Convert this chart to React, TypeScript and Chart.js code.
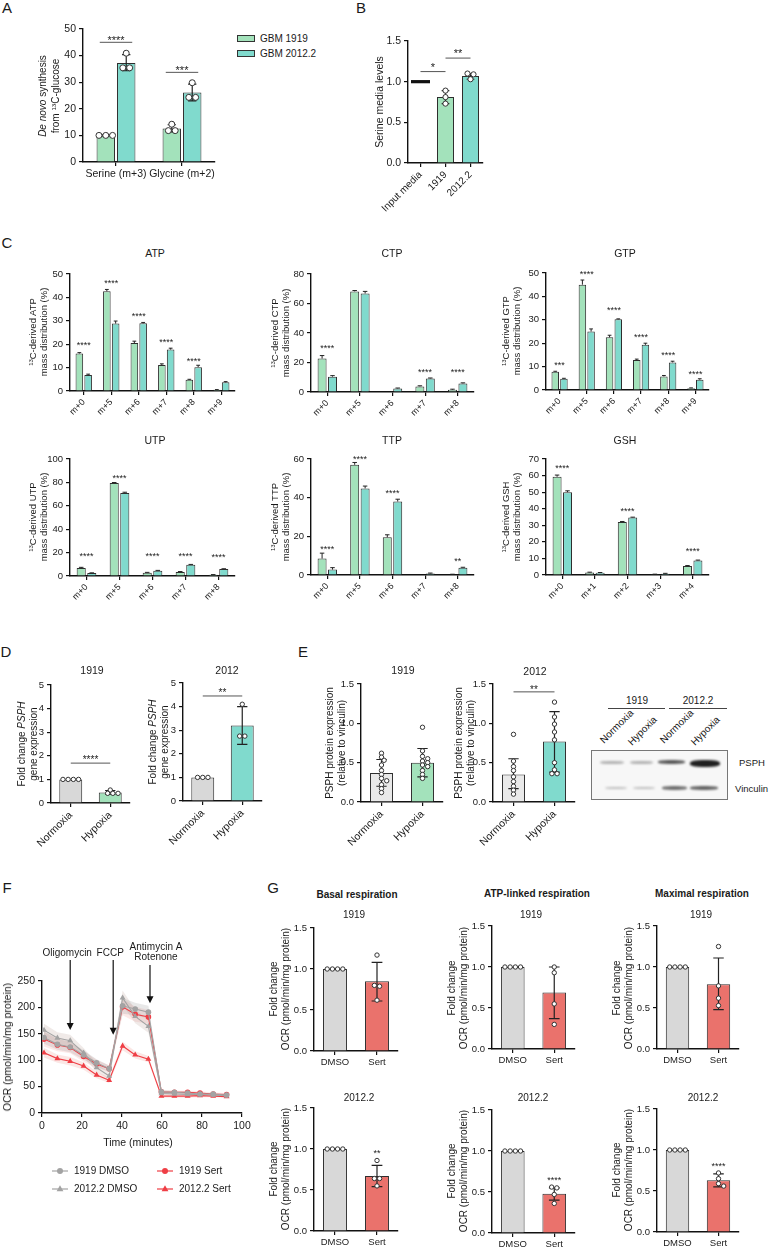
import React, { useEffect, useRef } from 'react';
import { Chart, registerables } from 'chart.js';

Chart.register(...registerables);

const FONT = '"Liberation Sans", Arial, Helvetica, sans-serif';
Chart.defaults.font.family = FONT;
Chart.defaults.color = '#222';

const GREEN = '#a3e2bb';
const TEAL = '#80dacd';
const GRAY = '#d8d8d8';
const LGRAY = '#e9e9e9';
const RED = '#ea726c';
const EDGE = '#2e2e2e';
const AX = '#111';
const F_GRAY = '#a3a3a3';
const F_RED = '#ef3e45';

// ---------------- DATA ----------------
// A
const A_CATS = ['Serine (m+3)', 'Glycine (m+2)'];
const A_1919 = [10.0, 12.6];
const A_1919_LO = [9.8, 11.3];
const A_1919_HI = [10.2, 14.0];
const A_1919_PTS = [[10.0, 10.0, 10.0], [14.2, 11.8, 11.8]];
const A_2012 = [37.2, 26.1];
const A_2012_LO = [34.3, 23.0];
const A_2012_HI = [40.4, 29.3];
const A_2012_PTS = [[40.9, 35.4, 35.4], [29.8, 24.3, 24.3]];

// B
const B_CATS = ['Input media', '1919', '2012.2'];
const B_VALS = [1.0, 0.81, 1.07];
const B_LO = [null, 0.73, 1.03];
const B_HI = [null, 0.89, 1.1];
const B_PTS = [[], [0.89, 0.81, 0.73], [1.1, 1.09, 1.03]];

// C
const C_ATP_CATS = ['m+0', 'm+5', 'm+6', 'm+7', 'm+8', 'm+9'];
const C_ATP_1919 = [16.0, 42.6, 20.5, 11.1, 4.8, 0.5];
const C_ATP_1919_SEM = [0.4, 0.8, 0.8, 0.5, 0.2, 0.1];
const C_ATP_2012 = [6.8, 28.8, 28.9, 17.7, 10.2, 3.7];
const C_ATP_2012_SEM = [0.4, 1.1, 0.4, 0.6, 0.8, 0.3];
const C_ATP_SIG = ['****', '****', '****', '****', '****', ''];
const C_ATP_SIG_Y = [20.5, 47, 33, 21.8, 13.7, 0];

const C_CTP_CATS = ['m+0', 'm+5', 'm+6', 'm+7', 'm+8'];
const C_CTP_1919 = [22.7, 68.2, 0, 3.8, 1.5];
const C_CTP_1919_SEM = [2.0, 0.6, 0, 0.4, 0.4];
const C_CTP_2012 = [10.4, 66.8, 2.4, 9.2, 5.8];
const C_CTP_2012_SEM = [0.7, 1.4, 0.3, 0.3, 0.4];
const C_CTP_SIG = ['****', '', '', '****', '****'];
const C_CTP_SIG_Y = [31.4, 0, 0, 14.9, 14.9];

const C_GTP_CATS = ['m+0', 'm+5', 'm+6', 'm+7', 'm+8', 'm+9'];
const C_GTP_1919 = [7.8, 45.0, 22.5, 12.8, 5.8, 0.8];
const C_GTP_1919_SEM = [0.2, 2.0, 0.9, 0.4, 0.4, 0.1];
const C_GTP_2012 = [4.8, 25.0, 30.2, 19.3, 11.8, 4.4];
const C_GTP_2012_SEM = [0.2, 1.1, 0.2, 0.7, 0.5, 0.4];
const C_GTP_SIG = ['***', '****', '****', '****', '****', '****'];
const C_GTP_SIG_Y = [11.8, 50.3, 35.3, 23.4, 15.7, 7.8];

const C_UTP_CATS = ['m+0', 'm+5', 'm+6', 'm+7', 'm+8'];
const C_UTP_1919 = [6.8, 79.5, 2.8, 3.5, 1.0];
const C_UTP_1919_SEM = [0.6, 0.4, 0.3, 0.3, 0.2];
const C_UTP_2012 = [2.5, 71.0, 4.5, 9.6, 6.0];
const C_UTP_2012_SEM = [0.2, 0.6, 0.3, 0.3, 0.2];
const C_UTP_SIG = ['****', '****', '****', '****', '****'];
const C_UTP_SIG_Y = [18.5, 85.5, 18.5, 18.5, 18];

const C_TTP_CATS = ['m+0', 'm+5', 'm+6', 'm+7', 'm+8'];
const C_TTP_1919 = [8.5, 57.0, 19.5, 0, 0.3];
const C_TTP_1919_SEM = [2.8, 1.2, 1.3, 0, 0.1];
const C_TTP_2012 = [2.8, 44.8, 38.0, 0.8, 3.8];
const C_TTP_2012_SEM = [1.0, 1.2, 1.2, 0.2, 0.2];
const C_TTP_SIG = ['****', '****', '****', '', '**'];
const C_TTP_SIG_Y = [14.6, 61.2, 43.4, 0, 8.1];

const C_GSH_CATS = ['m+0', 'm+1', 'm+2', 'm+3', 'm+4'];
const C_GSH_1919 = [59.3, 1.5, 32.0, 0.4, 5.5];
const C_GSH_1919_SEM = [1.0, 0.2, 0.3, 0.1, 0.2];
const C_GSH_2012 = [50.0, 1.3, 34.7, 0.8, 8.7];
const C_GSH_2012_SEM = [0.8, 0.2, 0.2, 0.2, 0.3];
const C_GSH_SIG = ['****', '', '****', '', '****'];
const C_GSH_SIG_Y = [65.6, 0, 40.2, 0, 15.7];

// D
const D_CATS = ['Normoxia', 'Hypoxia'];
const D_1919 = [1.0, 0.45];
const D_1919_LO = [null, 0.37];
const D_1919_HI = [null, 0.53];
const D_1919_PTS = [[1, 1, 1, 1], [0.55, 0.41, 0.41, 0.41]];
const D_2012 = [1.0, 3.2];
const D_2012_LO = [null, 2.4];
const D_2012_HI = [null, 4.0];
const D_2012_PTS = [[1, 1, 1], [4.1, 2.75, 2.75]];

// E
const E_CATS = ['Normoxia', 'Hypoxia'];
const E_1919 = [0.37, 0.5];
const E_1919_LO = [0.2, 0.32];
const E_1919_HI = [0.54, 0.68];
const E_1919_PTS = [
  [0.62, 0.57, 0.53, 0.47, 0.4, 0.35, 0.3, 0.27, 0.22, 0.17, 0.12],
  [0.95, 0.65, 0.58, 0.55, 0.52, 0.5, 0.47, 0.45, 0.4, 0.35, 0.3],
];
const E_2012 = [0.35, 0.77];
const E_2012_LO = [0.17, 0.38];
const E_2012_HI = [0.55, 1.15];
const E_2012_PTS = [
  [0.86, 0.52, 0.45, 0.4, 0.32, 0.26, 0.2, 0.15, 0.1],
  [1.27, 1.08, 0.99, 0.89, 0.79, 0.5, 0.41, 0.36, 0.36],
];

// F (Seahorse)
const F_T = [1, 7.7, 14.1, 20.8, 27.3, 33.6, 40.3, 46.6, 53.2, 59.7, 66.2, 72.8, 79, 85.6, 92.3];
const F_1919_DMSO = [143, 130, 125, 110, 95, 84, 203, 197, 191, 40, 39, 38, 36, 36, 34];
const F_1919_DMSO_SD = [12, 10, 10, 9, 7, 6, 15, 12, 12, 3, 3, 3, 2, 2, 2];
const F_2012_DMSO = [157, 142, 137, 114, 86, 70, 218, 183, 164, 37, 36, 35, 35, 34, 33];
const F_2012_DMSO_SD = [12, 11, 11, 9, 8, 6, 14, 13, 12, 3, 3, 3, 3, 2, 2];
const F_1919_SERT = [140, 129, 124, 107, 93, 84, 201, 187, 182, 40, 39, 39, 38, 36, 35];
const F_1919_SERT_SD = [14, 12, 11, 10, 8, 6, 16, 14, 13, 4, 3, 3, 3, 3, 3];
const F_2012_SERT = [114, 103, 98, 89, 72, 62, 127, 110, 102, 32, 32, 32, 33, 32, 31];
const F_2012_SERT_SD = [9, 8, 8, 7, 6, 5, 8, 7, 6, 3, 3, 3, 3, 2, 2];
const F_ANN_T = [14.1, 35.6, 54.0];
const F_ANN_TIP = [157, 148, 208];
const F_ANN_LABEL = [['Oligomycin'], ['FCCP'], ['Antimycin A', 'Rotenone']];

// G
const G_CATS = ['DMSO', 'Sert'];
const G_BASAL_1919 = [1.0, 0.85];
const G_BASAL_1919_LO = [null, 0.61];
const G_BASAL_1919_HI = [null, 1.08];
const G_BASAL_1919_PTS = [[1, 1, 1, 1], [1.17, 0.8, 0.79, 0.62]];
const G_ATP_1919 = [1.0, 0.69];
const G_ATP_1919_LO = [null, 0.37];
const G_ATP_1919_HI = [null, 1.0];
const G_ATP_1919_PTS = [[1, 1, 1, 1], [1.0, 0.93, 0.55, 0.3]];
const G_MAX_1919 = [1.0, 0.79];
const G_MAX_1919_LO = [null, 0.48];
const G_MAX_1919_HI = [null, 1.11];
const G_MAX_1919_PTS = [[1, 1, 1, 1], [1.25, 0.77, 0.62, 0.53]];
const G_BASAL_2012 = [1.0, 0.67];
const G_BASAL_2012_LO = [null, 0.54];
const G_BASAL_2012_HI = [null, 0.8];
const G_BASAL_2012_PTS = [[1, 1, 1, 1], [0.86, 0.64, 0.64, 0.55]];
const G_ATP_2012 = [1.0, 0.48];
const G_ATP_2012_LO = [null, 0.4];
const G_ATP_2012_HI = [null, 0.55];
const G_ATP_2012_PTS = [[1, 1, 1, 1], [0.56, 0.55, 0.47, 0.36]];
const G_MAX_2012 = [1.0, 0.63];
const G_MAX_2012_LO = [null, 0.55];
const G_MAX_2012_HI = [null, 0.71];
const G_MAX_2012_PTS = [[1, 1, 1, 1], [0.72, 0.65, 0.59, 0.56]];

// ---------------- HELPERS ----------------
function swarm(py: number[], r: number) {
  const d = 2 * r + 0.8;
  const order = py.map((_, i) => i).sort((a, b) => py[a] - py[b]);
  const rows: number[][] = [];
  for (const i of order) {
    const last = rows[rows.length - 1];
    if (last && Math.abs(py[i] - py[last[0]]) < 1.2) last.push(i);
    else rows.push([i]);
  }
  const placed: { x: number; y: number }[] = [];
  const out = py.map(() => 0);
  for (const row of rows) {
    const n = row.length;
    for (let s = 0; s < 60; s++) {
      const c = s === 0 ? 0 : (s % 2 ? 1 : -1) * Math.ceil(s / 2) * d * 0.5;
      const xs = row.map((_, q) => c + (q - (n - 1) / 2) * d);
      const ok = row.every((i, q) => placed.every((p) => Math.hypot(p.x - xs[q], p.y - py[i]) >= d * 0.75));
      if (ok || s === 59) {
        row.forEach((i, q) => {
          out[i] = xs[q];
          placed.push({ x: xs[q], y: py[i] });
        });
        break;
      }
    }
  }
  return out;
}

function makeExtras(o: any) {
  return {
    id: 'extras',
    afterDatasetsDraw(chart: any) {
      const ctx = chart.ctx;
      const ys = chart.scales.y;
      ctx.save();
      chart.data.datasets.forEach((ds: any, di: number) => {
        const meta = chart.getDatasetMeta(di);
        meta.data.forEach((bar: any, j: number) => {
          const v = ds.data[j];
          const bx = bar.x;
          const bw = bar.width;
          if (ds.lineOnly && ds.lineOnly[j]) {
            const py = ys.getPixelForValue(v);
            ctx.fillStyle = '#111';
            ctx.fillRect(bx - bw / 2 - 1, py - 1.6, bw + 2, 3.2);
          }
          let lo: any = null;
          let hi: any = null;
          if (ds.errLo && ds.errHi) {
            lo = ds.errLo[j];
            hi = ds.errHi[j];
          } else if (ds.err) {
            hi = v + ds.err[j];
            lo = o.upOnly ? v : v - ds.err[j];
          }
          if (lo != null && hi != null && hi > lo) {
            const pLo = ys.getPixelForValue(lo);
            const pHi = ys.getPixelForValue(hi);
            const cw = (bw * (o.cap ?? 0.45)) / 2;
            ctx.strokeStyle = '#222';
            ctx.lineWidth = o.errW ?? 1.2;
            ctx.beginPath();
            ctx.moveTo(bx, pLo);
            ctx.lineTo(bx, pHi);
            ctx.moveTo(bx - cw, pHi);
            ctx.lineTo(bx + cw, pHi);
            if (!o.upOnly) {
              ctx.moveTo(bx - cw, pLo);
              ctx.lineTo(bx + cw, pLo);
            }
            ctx.stroke();
          }
          const pts = ds.pts && ds.pts[j];
          if (pts && pts.length) {
            const r = o.r ?? 2.5;
            const pys = pts.map((p: number) => ys.getPixelForValue(p));
            const offs = swarm(pys, r);
            ctx.lineWidth = 1;
            ctx.strokeStyle = '#333';
            ctx.fillStyle = '#fff';
            pys.forEach((py: number, k: number) => {
              ctx.beginPath();
              ctx.arc(bx + offs[k], py, r, 0, Math.PI * 2);
              ctx.fill();
              ctx.stroke();
            });
          }
        });
      });
      (o.sig || []).forEach((s: any) => {
        if (!s.text) return;
        const b1 = chart.getDatasetMeta(s.a[0]).data[s.a[1]];
        const b2 = chart.getDatasetMeta(s.b[0]).data[s.b[1]];
        const ext = s.ext || 0;
        const x1 = Math.min(b1.x, b2.x) - ext;
        const x2 = Math.max(b1.x, b2.x) + ext;
        const py = ys.getPixelForValue(s.y);
        const fs = o.sfs ?? 9;
        ctx.font = `${fs}px ${FONT}`;
        ctx.fillStyle = '#222';
        ctx.textAlign = 'center';
        ctx.textBaseline = 'alphabetic';
        let cy = py;
        if (s.line) {
          ctx.strokeStyle = '#555';
          ctx.lineWidth = 1;
          ctx.beginPath();
          ctx.moveTo(x1, py);
          ctx.lineTo(x2, py);
          ctx.stroke();
          cy = py - (o.gap ?? 5);
        }
        ctx.fillText(s.text, (x1 + x2) / 2, cy + 0.57 * fs);
      });
      ctx.restore();
    },
  };
}

function axisOpts(extra: any) {
  return {
    grid: { drawOnChartArea: false, drawTicks: true, tickLength: 4, color: AX, lineWidth: 1.2, offset: false },
    border: { display: true, color: AX, width: 1.4 },
    ...extra,
  };
}

function barConfig(s: any) {
  return {
    type: 'bar',
    data: {
      labels: s.labels,
      datasets: s.ds.map((d: any) => ({
        data: d.data,
        backgroundColor: d.bg,
        borderColor: EDGE,
        borderWidth: d.bw ?? 1,
        borderSkipped: 'start',
        barPercentage: s.bar,
        categoryPercentage: s.cat,
        errLo: d.lo,
        errHi: d.hi,
        err: d.err,
        pts: d.pts,
        lineOnly: d.lineOnly,
      })),
    },
    options: {
      responsive: false,
      animation: false,
      devicePixelRatio: 1,
      layout: { padding: { left: 0, right: s.RP, top: s.TP, bottom: 0 } },
      plugins: { legend: { display: false }, tooltip: { enabled: false } },
      scales: {
        x: axisOpts({
          ticks: {
            autoSkip: false,
            minRotation: s.rot,
            maxRotation: s.rot,
            font: { size: s.xfs },
            color: '#1a1a1a',
            padding: 2,
          },
          afterFit: (sc: any) => {
            sc.height = s.BH;
          },
        }),
        y: axisOpts({
          min: 0,
          max: s.ymax,
          ticks: {
            stepSize: s.step,
            font: { size: s.yfs },
            color: '#1a1a1a',
            padding: 3,
            callback: (v: any) => Number(v).toFixed(s.dec),
          },
          afterFit: (sc: any) => {
            sc.width = s.LW;
          },
        }),
      },
    },
    plugins: [makeExtras(s.ex || {})],
  };
}

function CanvasChart({ left, top, width, height, config }: any) {
  const ref = useRef<HTMLCanvasElement>(null);
  useEffect(() => {
    const c = new Chart(ref.current as any, config);
    return () => c.destroy();
  }, []);
  return (
    <canvas
      ref={ref}
      width={width}
      height={height}
      style={{ position: 'absolute', left, top, width, height }}
    />
  );
}

function BarChart({ s }: any) {
  const width = s.LW + (s.r - s.l) + s.RP;
  const height = s.TP + (s.b - s.t) + s.BH;
  return <CanvasChart left={s.l - s.LW} top={s.t - s.TP} width={width} height={height} config={barConfig(s)} />;
}

// ---------------- SPECS ----------------
const SPEC_A = {
  l: 83, r: 215, t: 29, b: 162, LW: 32, TP: 12, RP: 10, BH: 28,
  labels: A_CATS,
  ds: [
    { data: A_1919, bg: GREEN, lo: A_1919_LO, hi: A_1919_HI, pts: A_1919_PTS },
    { data: A_2012, bg: TEAL, lo: A_2012_LO, hi: A_2012_HI, pts: A_2012_PTS },
  ],
  ymax: 50, step: 10, dec: 0, rot: 0, xfs: 10.5, yfs: 10.5, cat: 0.62, bar: 0.9,
  ex: {
    r: 3, cap: 0.45, sfs: 11, gap: 4.5,
    sig: [
      { a: [0, 0], b: [1, 0], y: 45, text: '****', line: true, ext: 6 },
      { a: [0, 1], b: [1, 1], y: 33.7, text: '***', line: true, ext: 6 },
    ],
  },
};

const SPEC_B = {
  l: 408, r: 483, t: 41, b: 163, LW: 36, TP: 12, RP: 10, BH: 55,
  labels: B_CATS,
  ds: [
    {
      data: B_VALS,
      bg: ['rgba(0,0,0,0)', GREEN, TEAL],
      bw: [0, 1, 1],
      lo: B_LO,
      hi: B_HI,
      pts: B_PTS,
      lineOnly: [true, false, false],
    },
  ],
  ymax: 1.5, step: 0.5, dec: 1, rot: 45, xfs: 10, yfs: 10.5, cat: 1, bar: 0.68,
  ex: {
    r: 2.6, sfs: 11, gap: 7,
    sig: [
      { a: [0, 0], b: [0, 1], y: 1.124, text: '*', line: true },
      { a: [0, 1], b: [0, 2], y: 1.29, text: '**', line: true },
    ],
  },
};

function cSpec(l: number, r: number, t: number, b: number, ymax: number, step: number, cats: string[], v1: number[], e1: number[], v2: number[], e2: number[], sig: string[], sigY: number[]) {
  return {
    l, r, t, b, LW: 28, TP: 14, RP: 8, BH: 32,
    labels: cats,
    ds: [
      { data: v1, bg: GREEN, err: e1 },
      { data: v2, bg: TEAL, err: e2 },
    ],
    ymax, step, dec: 0, rot: 45, xfs: 9, yfs: 9.5, cat: 0.64, bar: 0.86,
    ex: {
      upOnly: true, cap: 0.5, sfs: 9, errW: 1,
      sig: sig.map((txt, i) => ({ a: [0, i], b: [1, i], y: sigY[i], text: txt })),
    },
  };
}

const SPEC_C = [
  cSpec(70, 235, 274, 391, 50, 10, C_ATP_CATS, C_ATP_1919, C_ATP_1919_SEM, C_ATP_2012, C_ATP_2012_SEM, C_ATP_SIG, C_ATP_SIG_Y),
  cSpec(311, 474, 274, 392, 80, 20, C_CTP_CATS, C_CTP_1919, C_CTP_1919_SEM, C_CTP_2012, C_CTP_2012_SEM, C_CTP_SIG, C_CTP_SIG_Y),
  cSpec(546, 709, 273, 390, 50, 10, C_GTP_CATS, C_GTP_1919, C_GTP_1919_SEM, C_GTP_2012, C_GTP_2012_SEM, C_GTP_SIG, C_GTP_SIG_Y),
  cSpec(70, 235, 459, 576, 100, 20, C_UTP_CATS, C_UTP_1919, C_UTP_1919_SEM, C_UTP_2012, C_UTP_2012_SEM, C_UTP_SIG, C_UTP_SIG_Y),
  cSpec(311, 474, 459, 575, 60, 20, C_TTP_CATS, C_TTP_1919, C_TTP_1919_SEM, C_TTP_2012, C_TTP_2012_SEM, C_TTP_SIG, C_TTP_SIG_Y),
  cSpec(546, 709, 459, 575, 70, 10, C_GSH_CATS, C_GSH_1919, C_GSH_1919_SEM, C_GSH_2012, C_GSH_2012_SEM, C_GSH_SIG, C_GSH_SIG_Y),
];

function smallSpec(l: number, r: number, t: number, b: number, cats: string[], vals: number[], lo: any[], hi: any[], pts: number[][], colors: string[], kind: string, sig: any[]) {
  const base: any = {
    l, r, t, b, TP: 12, RP: 8,
    labels: cats,
    ds: [{ data: vals, bg: colors, lo, hi, pts }],
    cat: 1,
  };
  if (kind === 'D') Object.assign(base, { LW: 22, BH: 48, ymax: 5, step: 1, dec: 0, rot: 45, xfs: 10.5, yfs: 9.5, bar: 0.58, ex: { r: 2.2, sfs: 10, gap: 6, sig } });
  if (kind === 'E') Object.assign(base, { LW: 26, BH: 48, ymax: 1.5, step: 0.5, dec: 1, rot: 45, xfs: 10.5, yfs: 9.5, bar: 0.56, ex: { r: 2.2, sfs: 10, gap: 5, sig } });
  if (kind === 'G') Object.assign(base, { LW: 26, BH: 22, ymax: 1.5, step: 0.5, dec: 1, rot: 0, xfs: 9.5, yfs: 9.5, bar: 0.57, ex: { r: 2.2, sfs: 9, sig } });
  return base;
}

const SPEC_SMALL = [
  smallSpec(51, 130, 685, 803, D_CATS, D_1919, D_1919_LO, D_1919_HI, D_1919_PTS, [GRAY, GREEN], 'D', [{ a: [0, 0], b: [0, 1], y: 1.69, text: '****', line: true }]),
  smallSpec(183, 262, 683, 801, D_CATS, D_2012, D_2012_LO, D_2012_HI, D_2012_PTS, [GRAY, TEAL], 'D', [{ a: [0, 0], b: [0, 1], y: 4.45, text: '**', line: true }]),
  smallSpec(361, 443, 684, 802, E_CATS, E_1919, E_1919_LO, E_1919_HI, E_1919_PTS, [LGRAY, GREEN], 'E', []),
  smallSpec(493, 575, 684, 802, E_CATS, E_2012, E_2012_LO, E_2012_HI, E_2012_PTS, [LGRAY, TEAL], 'E', [{ a: [0, 0], b: [0, 1], y: 1.4, text: '**', line: true }]),
  smallSpec(314, 398, 928, 1051, G_CATS, G_BASAL_1919, G_BASAL_1919_LO, G_BASAL_1919_HI, G_BASAL_1919_PTS, [GRAY, RED], 'G', []),
  smallSpec(492, 575, 926, 1049, G_CATS, G_ATP_1919, G_ATP_1919_LO, G_ATP_1919_HI, G_ATP_1919_PTS, [GRAY, RED], 'G', []),
  smallSpec(657, 739, 926, 1049, G_CATS, G_MAX_1919, G_MAX_1919_LO, G_MAX_1919_HI, G_MAX_1919_PTS, [GRAY, RED], 'G', []),
  smallSpec(314, 398, 1108, 1231, G_CATS, G_BASAL_2012, G_BASAL_2012_LO, G_BASAL_2012_HI, G_BASAL_2012_PTS, [GRAY, RED], 'G', [{ a: [0, 1], b: [0, 1], y: 0.98, text: '**' }]),
  smallSpec(492, 575, 1110, 1233, G_CATS, G_ATP_2012, G_ATP_2012_LO, G_ATP_2012_HI, G_ATP_2012_PTS, [GRAY, RED], 'G', [{ a: [0, 1], b: [0, 1], y: 0.67, text: '****' }]),
  smallSpec(657, 739, 1109, 1232, G_CATS, G_MAX_2012, G_MAX_2012_LO, G_MAX_2012_HI, G_MAX_2012_PTS, [GRAY, RED], 'G', [{ a: [0, 1], b: [0, 1], y: 0.83, text: '****' }]),
];

// ---------------- F (line chart) ----------------
const F_SERIES = [
  { label: '1919 DMSO', data: F_1919_DMSO, sd: F_1919_DMSO_SD, color: F_GRAY, style: 'circle', band: 'rgba(150,150,150,0.22)' },
  { label: '2012.2 DMSO', data: F_2012_DMSO, sd: F_2012_DMSO_SD, color: F_GRAY, style: 'triangle', band: 'rgba(185,160,150,0.22)' },
  { label: '1919 Sert', data: F_1919_SERT, sd: F_1919_SERT_SD, color: F_RED, style: 'circle', band: 'rgba(235,120,110,0.16)' },
  { label: '2012.2 Sert', data: F_2012_SERT, sd: F_2012_SERT_SD, color: F_RED, style: 'triangle', band: 'rgba(235,120,110,0.18)' },
];

function drawMarker(ctx: any, style: string, x: number, y: number, color: string) {
  ctx.fillStyle = color;
  ctx.beginPath();
  if (style === 'triangle') {
    ctx.moveTo(x, y - 3.8);
    ctx.lineTo(x + 3.4, y + 2.2);
    ctx.lineTo(x - 3.4, y + 2.2);
    ctx.closePath();
  } else {
    ctx.arc(x, y, 3, 0, Math.PI * 2);
  }
  ctx.fill();
}

const seahorsePlugin = {
  id: 'seahorse',
  afterDraw(chart: any) {
    const { ctx, chartArea: ca } = chart;
    const xs = chart.scales.x;
    const ys = chart.scales.y;
    ctx.save();
    ctx.font = `10px ${FONT}`;
    ctx.fillStyle = '#1a1a1a';
    ctx.textAlign = 'center';
    ctx.textBaseline = 'middle';
    const dx = [-3, -3, 6];
    F_ANN_T.forEach((t, k) => {
      const px = xs.getPixelForValue(t);
      const tip = ys.getPixelForValue(F_ANN_TIP[k]);
      const lines = F_ANN_LABEL[k];
      let start;
      ctx.fillStyle = '#1a1a1a';
      if (lines.length === 1) {
        ctx.fillText(lines[0], px + dx[k], ca.top - 28);
        start = ca.top - 21;
      } else {
        ctx.fillText(lines[0], px + dx[k], ca.top - 34);
        ctx.fillText(lines[1], px + dx[k], ca.top - 24);
        start = ca.top - 16;
      }
      ctx.strokeStyle = '#111';
      ctx.lineWidth = 1.2;
      ctx.beginPath();
      ctx.moveTo(px, start);
      ctx.lineTo(px, tip - 6);
      ctx.stroke();
      ctx.fillStyle = '#111';
      ctx.beginPath();
      ctx.moveTo(px - 3.5, tip - 7);
      ctx.lineTo(px + 3.5, tip - 7);
      ctx.lineTo(px, tip);
      ctx.closePath();
      ctx.fill();
    });
    // legend
    const cols = [ca.left + 10, ca.left + 115];
    const rows = [ca.bottom + 58, ca.bottom + 76];
    F_SERIES.forEach((s, i) => {
      const cx = cols[i < 2 ? 0 : 1];
      const cy = rows[i % 2];
      ctx.strokeStyle = s.color;
      ctx.lineWidth = 1.2;
      ctx.beginPath();
      ctx.moveTo(cx, cy);
      ctx.lineTo(cx + 16, cy);
      ctx.stroke();
      drawMarker(ctx, s.style, cx + 8, cy, s.color);
      ctx.fillStyle = '#1a1a1a';
      ctx.textAlign = 'left';
      ctx.font = `10px ${FONT}`;
      ctx.fillText(s.label, cx + 22, cy + 0.5);
    });
    ctx.restore();
  },
};

function fConfig() {
  const lines = F_SERIES.map((s) => ({
    data: F_T.map((t, i) => ({ x: t, y: s.data[i] })),
    borderColor: s.color,
    backgroundColor: s.color,
    borderWidth: 1.1,
    pointStyle: s.style,
    pointRadius: s.style === 'triangle' ? 3.4 : 2.8,
    pointBorderWidth: 0,
    fill: false,
  }));
  const bands: any[] = [];
  F_SERIES.forEach((s) => {
    bands.push({
      data: F_T.map((t, i) => ({ x: t, y: s.data[i] + s.sd[i] })),
      borderWidth: 0,
      pointRadius: 0,
      backgroundColor: s.band,
      fill: '+1',
    });
    bands.push({
      data: F_T.map((t, i) => ({ x: t, y: s.data[i] - s.sd[i] })),
      borderWidth: 0,
      pointRadius: 0,
      fill: false,
    });
  });
  return {
    type: 'line',
    data: { datasets: [...lines, ...bands] },
    options: {
      responsive: false,
      animation: false,
      devicePixelRatio: 1,
      layout: { padding: { left: 0, right: 12, top: 46, bottom: 0 } },
      plugins: { legend: { display: false }, tooltip: { enabled: false } },
      scales: {
        x: axisOpts({
          type: 'linear',
          min: 0,
          max: 100,
          ticks: { stepSize: 20, font: { size: 10.5 }, color: '#1a1a1a', padding: 3 },
          afterFit: (sc: any) => {
            sc.height = 90;
          },
        }),
        y: axisOpts({
          min: 0,
          max: 250,
          ticks: { stepSize: 50, font: { size: 10.5 }, color: '#1a1a1a', padding: 3 },
          afterFit: (sc: any) => {
            sc.width = 30;
          },
        }),
      },
    },
    plugins: [seahorsePlugin],
  };
}

// ---------------- TEXT HELPERS ----------------
const T = (p: any) => {
  const { x, y, s = 10, a = 'c', b = false, children } = p;
  const tr = a === 'c' ? 'translate(-50%,-50%)' : a === 'l' ? 'translate(0,-50%)' : 'translate(-100%,-50%)';
  return (
    <div
      style={{
        position: 'absolute', left: x, top: y, transform: tr, fontSize: s,
        fontWeight: b ? 700 : 400, lineHeight: 1.2, whiteSpace: 'nowrap', color: '#1a1a1a', fontFamily: FONT,
      }}
    >
      {children}
    </div>
  );
};

const V = (p: any) => {
  const { x, y, s = 10, lh = 12, children } = p;
  return (
    <div
      style={{
        position: 'absolute', left: x, top: y, transform: 'translate(-50%,-50%) rotate(-90deg)',
        fontSize: s, lineHeight: `${lh}px`, textAlign: 'center', whiteSpace: 'nowrap', color: '#1a1a1a', fontFamily: FONT,
      }}
    >
      {children}
    </div>
  );
};

const Sup = ({ children }: any) => (
  <span style={{ fontSize: '0.62em', verticalAlign: '0.55em', lineHeight: 0 }}>{children}</span>
);

const R45 = ({ x, y, children }: any) => (
  <div
    style={{
      position: 'absolute', left: x, top: y - 12, height: 12, lineHeight: '12px', fontSize: 10,
      transformOrigin: '0 100%', transform: 'rotate(-45deg)', whiteSpace: 'nowrap', color: '#1a1a1a', fontFamily: FONT,
    }}
  >
    {children}
  </div>
);

const Band = ({ cx, cy, w, h, op }: any) => (
  <div
    style={{
      position: 'absolute', left: cx - w / 2, top: cy - h / 2, width: w, height: h,
      background: `rgba(20,20,20,${op})`, borderRadius: '40%', filter: 'blur(1px)',
    }}
  />
);

const Swatch = ({ x, y, c }: any) => (
  <div style={{ position: 'absolute', left: x, top: y, width: 18, height: 7, background: c, border: '1px solid #333', boxSizing: 'border-box' }} />
);

const HLine = ({ x1, x2, y }: any) => (
  <div style={{ position: 'absolute', left: x1, top: y, width: x2 - x1, height: 1, background: '#444' }} />
);

const C_TITLES = [
  { t: 'ATP', x: 155, y: 253, yx: 38, yy: 332 },
  { t: 'CTP', x: 392, y: 253, yx: 280, yy: 333 },
  { t: 'GTP', x: 625, y: 253, yx: 511, yy: 331 },
  { t: 'UTP', x: 155, y: 440, yx: 38, yy: 517 },
  { t: 'TTP', x: 392, y: 440, yx: 280, yy: 517 },
  { t: 'GSH', x: 625, y: 440, yx: 511, yy: 517 },
];

export default function App() {
  return (
    <div
      style={{
        position: 'absolute', left: 0, top: 0, width: 770, height: 1250, overflow: 'hidden',
        background: '#fff', fontFamily: FONT, color: '#1a1a1a',
      }}
    >
      <BarChart s={SPEC_A} />
      <BarChart s={SPEC_B} />
      {SPEC_C.map((s, i) => (
        <BarChart key={'c' + i} s={s} />
      ))}
      {SPEC_SMALL.map((s, i) => (
        <BarChart key={'s' + i} s={s} />
      ))}
      <CanvasChart left={12} top={935} width={242} height={268} config={fConfig()} />

      {/* panel letters */}
      <T x={7} y={8} s={15}>A</T>
      <T x={361} y={8} s={15}>B</T>
      <T x={7} y={243} s={15}>C</T>
      <T x={6} y={652} s={15}>D</T>
      <T x={303} y={652} s={15}>E</T>
      <T x={7} y={888} s={15}>F</T>
      <T x={273} y={888} s={15}>G</T>

      {/* A */}
      <V x={48.5} y={95.5} s={10} lh={13}>
        <i>De novo</i> synthesis
        <br />
        from <Sup>13</Sup>C-glucose
      </V>
      <Swatch x={237} y={35} c={GREEN} />
      <T x={260} y={38.5} a="l" s={10}>GBM 1919</T>
      <Swatch x={237} y={50} c={TEAL} />
      <T x={260} y={53.5} a="l" s={10}>GBM 2012.2</T>

      {/* B */}
      <V x={379} y={102} s={10.5}>Serine media levels</V>

      {/* C */}
      {C_TITLES.map((c) => (
        <React.Fragment key={c.t}>
          <T x={c.x} y={c.y} s={10.5}>{c.t}</T>
          <V x={c.yx} y={c.yy} s={9.5} lh={11}>
            <Sup>13</Sup>C-derived {c.t}
            <br />
            mass distribution (%)
          </V>
        </React.Fragment>
      ))}

      {/* D */}
      <T x={92} y={670} s={10.5}>1919</T>
      <T x={227} y={670} s={10.5}>2012</T>
      <V x={26.5} y={744} s={10} lh={11.5}>
        Fold change <i>PSPH</i>
        <br />
        gene expression
      </V>
      <V x={157.5} y={742} s={10} lh={11.5}>
        Fold change <i>PSPH</i>
        <br />
        gene expression
      </V>

      {/* E */}
      <T x={403} y={670} s={10.5}>1919</T>
      <T x={535} y={671} s={10.5}>2012</T>
      <V x={335} y={743} s={10} lh={11.5}>
        PSPH protein expression
        <br />
        (relative to vinculin)
      </V>
      <V x={464} y={743} s={10} lh={11.5}>
        PSPH protein expression
        <br />
        (relative to vinculin)
      </V>

      {/* Western blot */}
      <T x={637} y={701} s={10}>1919</T>
      <T x={698} y={701} s={10}>2012.2</T>
      <HLine x1={608} x2={665} y={708} />
      <HLine x1={669} x2={727} y={708} />
      <R45 x={606} y={746}>Normoxia</R45>
      <R45 x={634} y={748}>Hypoxia</R45>
      <R45 x={666} y={746}>Normoxia</R45>
      <R45 x={697} y={748}>Hypoxia</R45>
      <div
        style={{
          position: 'absolute', left: 591, top: 750, width: 137, height: 50,
          border: '1px solid #777', background: '#f7f7f7', boxSizing: 'border-box',
        }}
      />
      <Band cx={612} cy={762} w={24} h={3} op={0.3} />
      <Band cx={641} cy={762} w={23} h={3} op={0.3} />
      <Band cx={671} cy={762} w={27} h={4} op={0.7} />
      <Band cx={705} cy={763} w={30} h={7} op={0.95} />
      <Band cx={616} cy={788} w={22} h={2.5} op={0.25} />
      <Band cx={644} cy={788} w={22} h={2.5} op={0.25} />
      <Band cx={674} cy={788} w={25} h={3.5} op={0.6} />
      <Band cx={704} cy={788} w={28} h={3.5} op={0.65} />
      <T x={739} y={763} a="l" s={9.5}>PSPH</T>
      <T x={735} y={789} a="l" s={9.5}>Vinculin</T>

      {/* F */}
      <T x={138} y={1142} s={10.5}>Time (minutes)</T>
      <V x={7} y={1047} s={10.5}>OCR (pmol/min/mg protein)</V>

      {/* G */}
      <T x={357} y={895} s={10} b>Basal respiration</T>
      <T x={537} y={894} s={10} b>ATP-linked respiration</T>
      <T x={702} y={894} s={10} b>Maximal respiration</T>
      <T x={354} y={915} s={10}>1919</T>
      <T x={531} y={915} s={10}>1919</T>
      <T x={701} y={915} s={10}>1919</T>
      <T x={359} y={1098} s={10}>2012.2</T>
      <T x={533} y={1098} s={10}>2012.2</T>
      <T x={703} y={1098} s={10}>2012.2</T>
      {[
        [280, 989], [458, 988], [623, 988],
        [280, 1169], [458, 1171], [623, 1170],
      ].map(([x, y], i) => (
        <V key={'gy' + i} x={x} y={y} s={10} lh={12}>
          Fold change
          <br />
          OCR (pmol/min/mg protein)
        </V>
      ))}
    </div>
  );
}
